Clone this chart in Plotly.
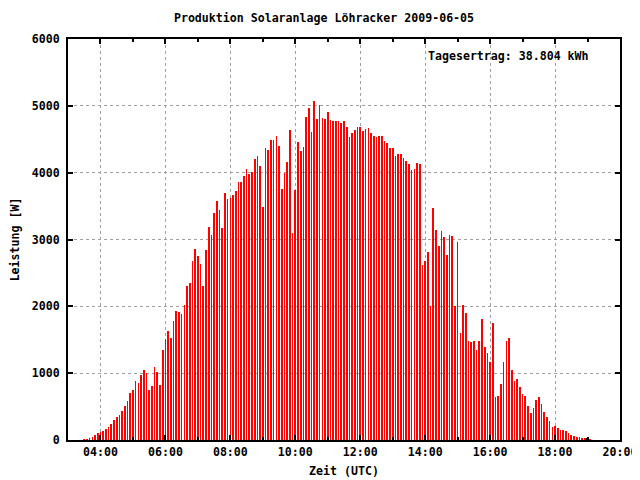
import pandas as pd
import plotly.graph_objects as go

# Power readings every 5 minutes starting 03:30 UTC (W)
power = [
    15, 15, 35, 50, 80, 105, 125, 135, 165, 195,
    240, 300, 345, 375, 435, 510, 585, 705, 750, 885,
    855, 975, 1050, 1005, 750, 810, 1095, 1020, 825, 1345,
    1510, 1630, 1525, 1780, 1930, 1915, 1885, 2020, 2300, 2350,
    2678, 2857, 2753, 2633, 2300, 2843, 3187, 3067, 3396, 3575,
    3441, 3172, 3695, 3605, 3620, 3665, 3725, 3860, 3860, 3950,
    4050, 3980, 4009, 4204, 4249, 4099, 3486, 4368, 4338, 4488,
    4488, 4548, 4398, 3755, 3994, 4159, 4638, 3100, 3740, 4458,
    4323, 4383, 4832, 4967, 4608, 5071, 4802, 5012, 4817, 4802,
    4907, 4787, 4772, 4772, 4772, 4742, 4772, 4682, 4533, 4593,
    4638, 4682, 4682, 4623, 4653, 4668, 4593, 4548, 4533, 4548,
    4548, 4473, 4443, 4368, 4368, 4249, 4279, 4279, 4219, 4174,
    4129, 4039, 4054, 4144, 4129, 2618, 2678, 2812, 2005, 3471,
    3142, 2902, 3127, 3037, 2768, 3067, 3052, 2005, 2962, 1601,
    2020, 1900, 1481, 1466, 1481, 1346, 1481, 1810, 1391, 1301,
    1167, 1750, 643, 658, 838, 1167, 1481, 1526, 1047, 883,
    913, 793, 688, 658, 509, 404, 479, 598, 643, 539,
    419, 344, 284, 194, 209, 179, 150, 150, 135, 105,
    75, 60, 45, 45, 30, 30, None, 15,
]
start_time = "2009-06-05 03:30"

# Second (dark) series visible at a few full hours
dark_times = ["2009-06-05 04:00", "2009-06-05 16:00", "2009-06-05 19:00"]
dark_power = [60, 60, 30]

x_ticks = ["2009-06-05 %02d:00" % h for h in range(4, 21, 2)]
x_ticktext = ["%02d:00" % h for h in range(4, 21, 2)]
title_text = "Produktion Solaranlage Löhracker 2009-06-05"
yield_text = "Tagesertrag: 38.804 kWh"

times = pd.date_range(start_time, periods=len(power), freq="5min")

FONT = dict(family="DejaVu Sans Mono", size=11.6, color="black", weight="bold")
BAR_W = 70000  # ~0.6 px in ms

# page body has an 8px margin, so the figure is sized to end at the window edge
W, H = 632, 472

fig = go.Figure()
fig.add_trace(go.Bar(x=list(dark_times), y=dark_power, width=BAR_W, offset=-110000,
                     marker=dict(color="black", line=dict(width=0)), showlegend=False))
fig.add_trace(go.Bar(x=times, y=power, width=BAR_W,
                     marker=dict(color="#ff0000", line=dict(width=0)), showlegend=False))

fig.update_layout(
    width=W, height=H,
    margin=dict(l=60, r=20, t=31, b=40, autoexpand=False),
    paper_bgcolor="white", plot_bgcolor="white",
    font=FONT,
    bargap=0,
    title=dict(text=title_text, x=0.5, xanchor="center", y=1 - 10 / H, yanchor="middle",
               font=FONT, automargin=False),
    annotations=[dict(text=yield_text, xref="paper", yref="paper",
                      x=(426 - 68) / 552, y=(440 - 56) / 401,
                      xanchor="left", yanchor="middle", showarrow=False, font=FONT)],
)
fig.update_xaxes(
    type="date", automargin=False,
    range=["2009-06-05 03:00", "2009-06-05 20:00"],
    tickmode="array", tickvals=x_ticks, ticktext=x_ticktext,
    ticks="inside", ticklen=5, tickwidth=2, tickcolor="black",
    minor=dict(dtick=3600000, ticks="inside", ticklen=3, tickwidth=2, tickcolor="black",
               showgrid=False),
    showline=True, linecolor="black", linewidth=2, mirror="allticks",
    showgrid=True, gridcolor="#a0a0a0", gridwidth=1, griddash="3px,3px",
    title=dict(text="Zeit (UTC)", font=FONT, standoff=9),
    tickfont=FONT, zeroline=False,
)
fig.update_yaxes(
    range=[0, 6000], dtick=1000, tick0=0, automargin=False,
    ticks="inside", ticklen=5, tickwidth=2, tickcolor="black",
    showline=True, linecolor="black", linewidth=2, mirror="allticks",
    showgrid=True, gridcolor="#a0a0a0", gridwidth=1, griddash="3px,3px",
    title=dict(text="Leistung [W]", font=FONT, standoff=12),
    tickfont=FONT, zeroline=False, ticklabelstandoff=4,
)

fig.write_html("out.html")
